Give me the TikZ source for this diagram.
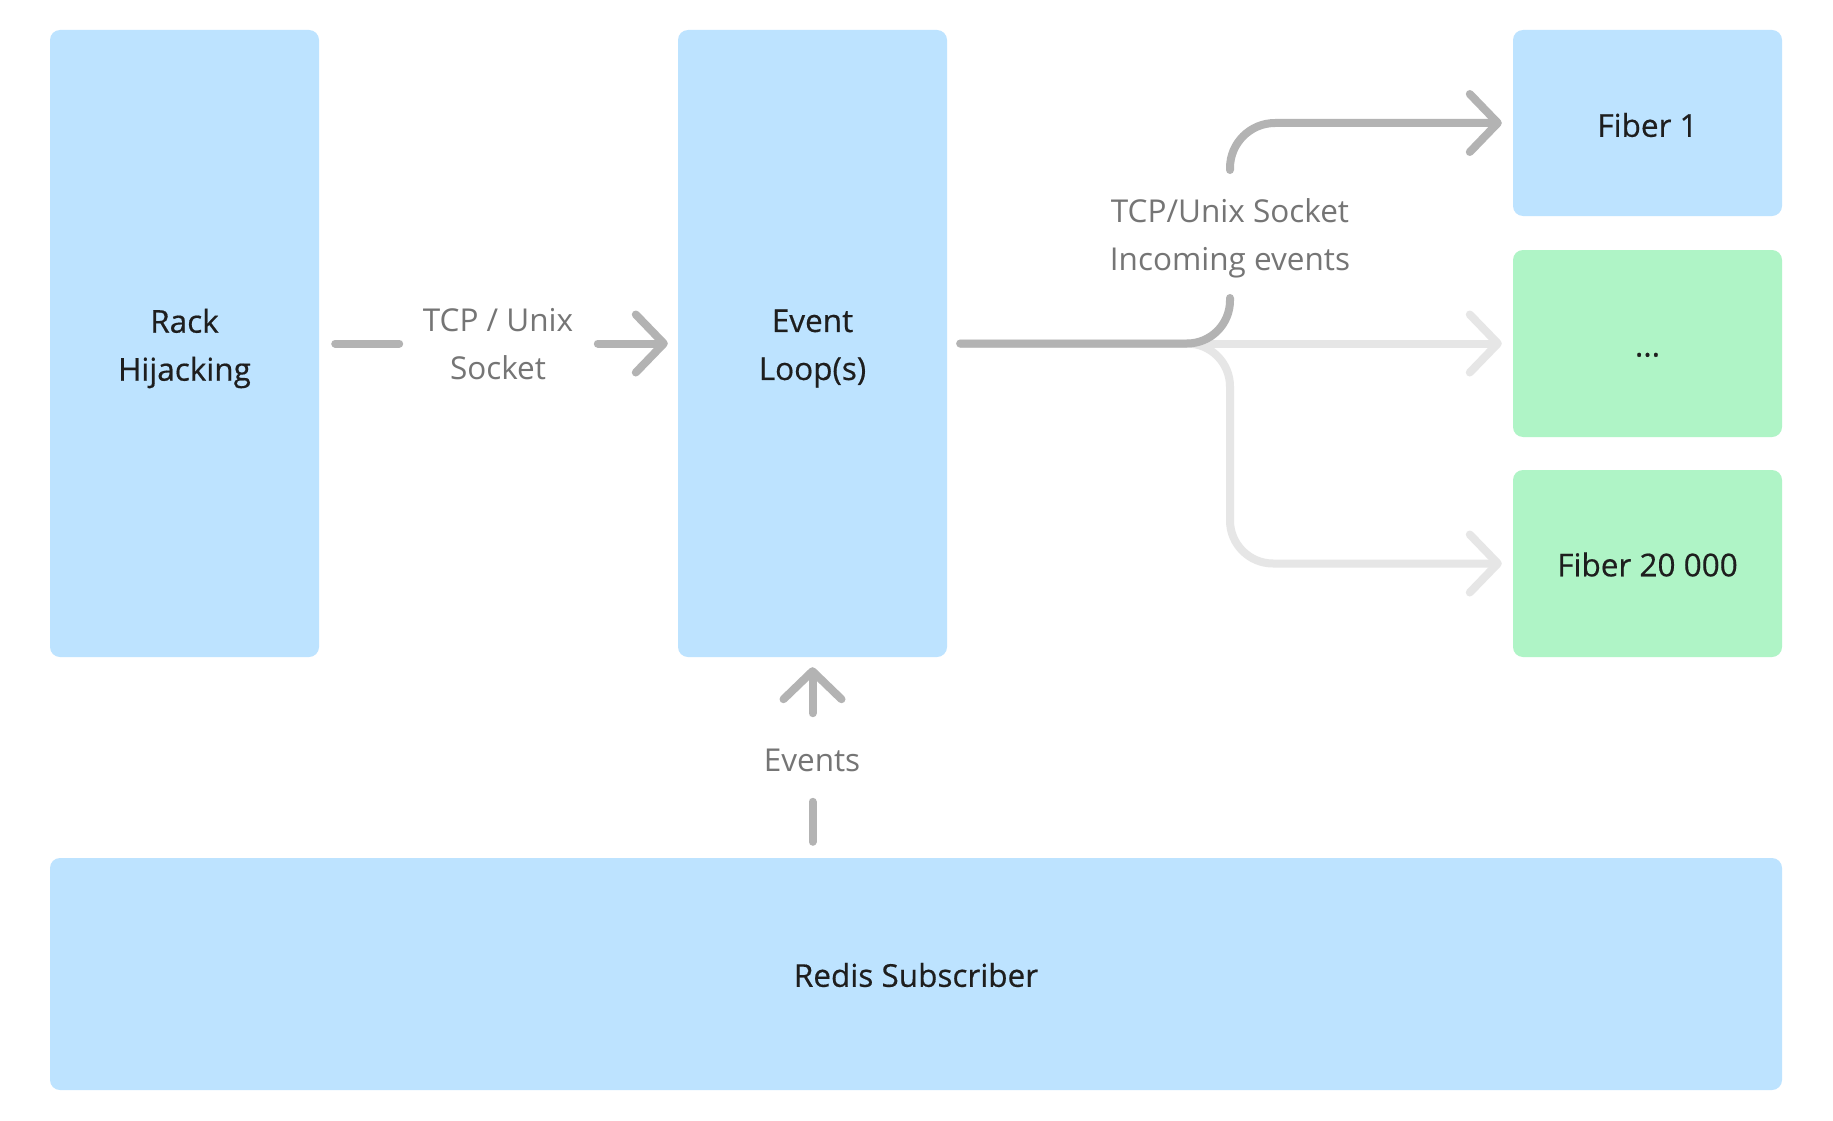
\documentclass[tikz,border=0pt]{standalone}
\usepackage{fontspec}
\setmainfont{Open Sans}
\newfontfamily\boxfont[FakeBold=0.5]{Open Sans}
\usetikzlibrary{arrows.meta,calc}
\definecolor{boxblue}{HTML}{BDE3FF}
\definecolor{boxgreen}{HTML}{AFF4C6}
\definecolor{linedark}{HTML}{B3B3B3}
\definecolor{linelight}{HTML}{E6E6E6}
\definecolor{labelgray}{HTML}{757575}
\definecolor{textdark}{HTML}{1E1E1E}
\tikzset{chev/.tip={Straight Barb[length=28pt,width=58pt,round]}}
\begin{document}
\begin{tikzpicture}[x=1pt,y=-1pt,
  box/.style={rounded corners=10pt, minimum width=269pt, inner sep=0pt, align=center,
    text=textdark, font=\boxfont\fontsize{31.5}{48}\selectfont},
  lbl/.style={inner sep=0pt, align=center, text=labelgray, font=\fontsize{31.5}{48}\selectfont},
  dk/.style={draw=linedark, line width=8pt, line cap=round, line join=round},
  lt/.style={draw=linelight, line width=8pt, line cap=round, line join=round}]
\useasboundingbox[fill=white] (0,0) rectangle (1833,1121);
% boxes
\node[box, fill=boxblue, minimum height=627pt] (rack) at (184.5,343.5) {};
\node[box, fill=boxblue, minimum height=627pt] (ev) at (812.5,343.5) {};
\node[box, fill=boxblue, minimum height=186pt] (f1) at (1647.5,123) {};
\node[box, fill=boxgreen, minimum height=187pt] (f2) at (1647.5,343.5) {};
\node[box, fill=boxgreen, minimum height=187pt] (f3) at (1647.5,563.5) {};
\node[box, fill=boxblue, minimum width=1732pt, minimum height=232pt] (rd) at (916,974) {};
% box texts
\node[box, minimum width=0pt] (trk) at ($(rack.center)+(0,5)$) {Rack\\Hijacking};
\node[box, minimum width=0pt] (tev) at ($(ev.center)+(0,5)$) {Event\\Loop(s)};
\node[box, minimum width=0pt] (tf1) at ($(f1.center)+(0,2)$) {Fiber 1};
\node[box, minimum width=0pt] (tf2) at ($(f2.center)+(0,2)$) {...\vphantom{F}};
\node[box, minimum width=0pt] (tf3) at ($(f3.center)+(0,1)$) {Fiber 20 000};
\node[box, minimum width=0pt] (trd) at ($(rd.center)+(0,1)$) {Redis Subscriber};
% labels
\node[lbl] (l1) at (498,344) {TCP / Unix\\Socket};
\node[lbl] (l2) at (1230,238) {TCP/Unix Socket\\Incoming events};
\node[lbl] (l3) at (812,760) {Events};
\coordinate (b1) at (1230,298);
\coordinate (b2) at (1230,170);
% rack -> event loop
\draw[dk] ([xshift=16pt]rack.east) -- ++(64,0);
\draw[dk,-{chev}] ([xshift=-80pt]ev.west) -- ([xshift=-10pt]ev.west);
% event loop -> fibers
\draw[lt,-{chev}] ([xshift=13pt]ev.east) -- ([xshift=-11pt]f2.west);
\draw[lt,-{chev},rounded corners=43pt] ([xshift=13pt]ev.east) -- (ev.east -| b1) -- (f3.west -| b1) -- ([xshift=-11pt]f3.west);
\draw[dk,rounded corners=43pt] ([xshift=13pt]ev.east) -- (ev.east -| b1) -- (b1);
\draw[dk,-{chev},rounded corners=45pt] (b2) -- (b2 |- f1.west) -- ([xshift=-11pt]f1.west);
% redis -> event loop
\draw[dk,-{chev}] ($(ev.south)+(0,56)$) -- ($(ev.south)+(0,10)$);
\draw[dk] ($(ev.south |- rd.north)+(0,-16)$) -- ($(ev.south |- rd.north)+(0,-56)$);
\end{tikzpicture}
\end{document}
